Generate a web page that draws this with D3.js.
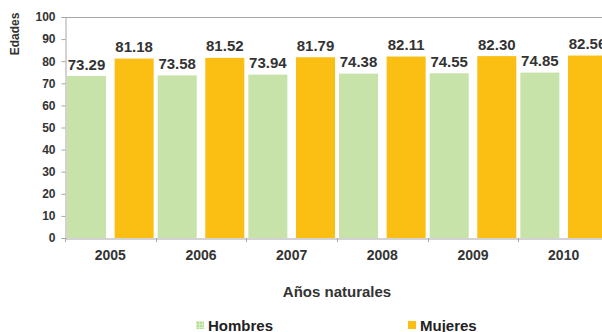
<!DOCTYPE html>
<html>
<head>
<meta charset="utf-8">
<script src="https://cdn.jsdelivr.net/npm/d3@7"></script>
<style>
  html, body { margin: 0; padding: 0; background: #fff; }
  svg { display: block; font-family: "Liberation Sans", Arial, sans-serif; }
</style>
</head>
<body>
<svg id="chart" width="602" height="332"></svg>
<script>
// Esperanza de vida por sexo y año
const years = ["2005", "2006", "2007", "2008", "2009", "2010"];
const series = ["Hombres", "Mujeres"];
const hombres = [73.29, 73.58, 73.94, 74.38, 74.55, 74.85];
const mujeres = [81.18, 81.52, 81.79, 82.11, 82.30, 82.56];
const yTicks = [0, 10, 20, 30, 40, 50, 60, 70, 80, 90, 100];
const colors = { Hombres: "#c8e3a9", Mujeres: "#fbbf13" };

const svg = d3.select("#chart");
const textColor = "#333333";
const axisColor = "#a6a6a6";
const fontFamily = "Liberation Sans, Arial, sans-serif";

const plot = { left: 65, right: 609, top: 17, bottom: 238 };

const x0 = d3.scaleBand().domain(years).range([plot.left, plot.right]).padding(0);
const x1 = d3.scaleBand().domain(series).range([2, x0.bandwidth() - 2]).paddingInner(0.18);
const y = d3.scaleLinear().domain([0, 100]).range([plot.bottom, plot.top]);

const values = { Hombres: hombres, Mujeres: mujeres };
const rows = years.map((yr, i) => ({ year: yr, items: series.map(s => ({ s, v: values[s][i] })) }));

// subtle grid texture for the legend swatch
const defs = svg.append("defs");
const pat = defs.append("pattern").attr("id", "gridH").attr("width", 3).attr("height", 3)
  .attr("patternUnits", "userSpaceOnUse");
pat.append("rect").attr("width", 3).attr("height", 3).attr("fill", "#b5dc95");
pat.append("path").attr("d", "M0,0.5H3M0.5,0V3").attr("stroke", "#d9edc6").attr("stroke-width", 1);

// bars
const groups = svg.append("g").selectAll("g").data(rows).join("g")
  .attr("transform", d => `translate(${x0(d.year)},0)`);

groups.selectAll("rect").data(d => d.items).join("rect")
  .attr("x", d => x1(d.s))
  .attr("y", d => y(d.v))
  .attr("width", x1.bandwidth())
  .attr("height", d => y(0) - y(d.v))
  .attr("fill", d => colors[d.s]);

groups.selectAll("text").data(d => d.items).join("text")
  .attr("x", d => x1(d.s) + x1.bandwidth() / 2)
  .attr("y", d => y(d.v) - 6.5)
  .attr("text-anchor", "middle")
  .attr("font-size", 15)
  .attr("font-weight", "bold")
  .attr("fill", textColor)
  .text(d => d.v.toFixed(2));

// frame top line
svg.append("line")
  .attr("x1", plot.left).attr("x2", plot.right)
  .attr("y1", y(100) + 0.5).attr("y2", y(100) + 0.5)
  .attr("stroke", axisColor);

// y axis
const yAxis = svg.append("g")
  .attr("transform", `translate(${plot.left + 0.5},0)`)
  .call(d3.axisLeft(y).tickValues(yTicks).tickSize(4).tickPadding(6));
yAxis.select(".domain").attr("stroke", axisColor);
yAxis.selectAll(".tick line").attr("stroke", axisColor);
yAxis.selectAll(".tick text")
  .attr("fill", textColor).attr("font-size", 12).attr("font-weight", "bold")
  .attr("font-family", fontFamily);

// x axis
const xAxis = svg.append("g")
  .attr("transform", `translate(0,${plot.bottom + 0.5})`)
  .call(d3.axisBottom(x0).tickSize(0).tickPadding(12));
xAxis.select(".domain").attr("stroke", axisColor);
xAxis.selectAll(".tick text")
  .attr("fill", textColor).attr("font-size", 14).attr("font-weight", "bold")
  .attr("font-family", fontFamily);

// category separators on the x axis
svg.append("g").selectAll("line").data(years).join("line")
  .attr("x1", d => Math.round(x0(d)) + 0.5).attr("x2", d => Math.round(x0(d)) + 0.5)
  .attr("y1", plot.bottom).attr("y2", plot.bottom + 4)
  .attr("stroke", axisColor);

// axis titles
svg.append("text")
  .attr("transform", "translate(19,34) rotate(-90)")
  .attr("text-anchor", "middle")
  .attr("font-size", 12).attr("font-weight", "bold").attr("fill", textColor)
  .text("Edades");

svg.append("text")
  .attr("x", 337).attr("y", 297)
  .attr("text-anchor", "middle")
  .attr("font-size", 15).attr("font-weight", "bold").attr("fill", textColor)
  .text("Años naturales");

// legend
const legendPos = [196, 408];
const legend = svg.append("g").selectAll("g").data(series).join("g")
  .attr("transform", (d, i) => `translate(${legendPos[i]},321)`);
legend.append("rect")
  .attr("width", 8).attr("height", 8)
  .attr("fill", d => d === "Hombres" ? "url(#gridH)" : colors[d]);
legend.append("text")
  .attr("x", 12).attr("y", 9.5)
  .attr("font-size", 15).attr("font-weight", "bold").attr("fill", "#222")
  .text(d => d);
</script>
</body>
</html>
